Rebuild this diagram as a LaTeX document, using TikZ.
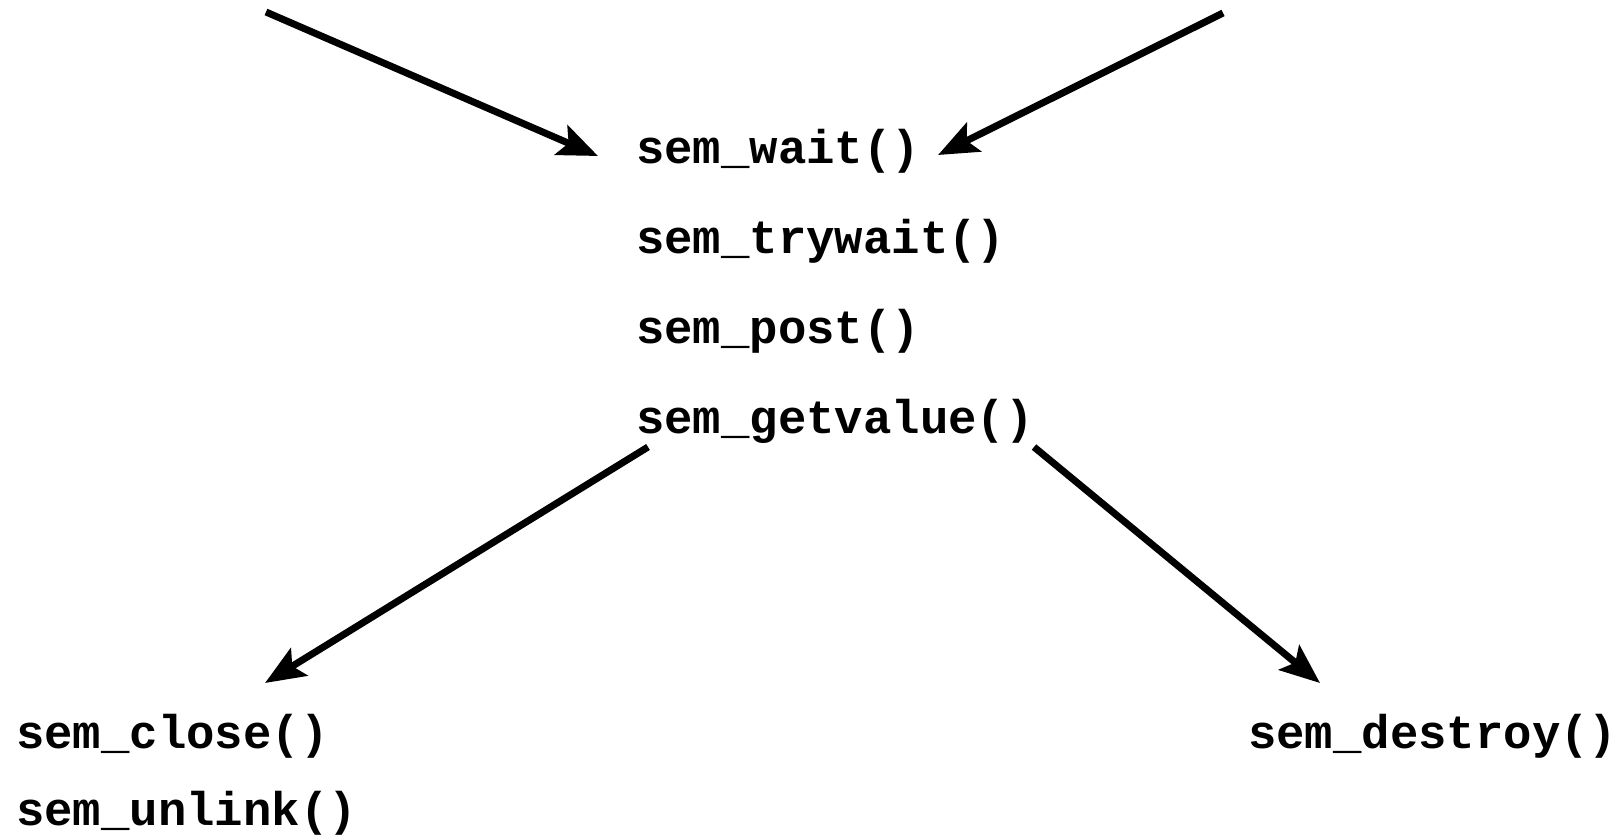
\documentclass[tikz,border=0pt]{standalone}
\usepackage{fontspec}
\setmonofont{Liberation Mono}
\usetikzlibrary{arrows.meta}
\tikzset{
  fn/.style={anchor=base west, inner sep=0pt, font=\fontsize{47.3pt}{50pt}\selectfont\ttfamily\bfseries},
  arr/.style={line width=7pt, -{Stealth[length=40pt,width=32pt,inset=8pt]}}
}
\begin{document}
\begin{tikzpicture}[x=1pt,y=-1pt]
\useasboundingbox (0,0) rectangle (1621,839);
\node[fn] (wait) at (636,163) {sem\_wait()};
\node[fn] (trywait) at (636,253) {sem\_trywait()};
\node[fn] (post) at (636,343) {sem\_post()};
\node[fn] (getvalue) at (636,433) {sem\_getvalue()};
\node[fn] (close) at (16,748) {sem\_close()};
\node[fn] (unlink) at (16,825) {sem\_unlink()};
\node[fn] (destroy) at (1248,748) {sem\_destroy()};
\coordinate (a1) at (266,12);
\coordinate (a2) at (1223,13);
\coordinate (e1) at (598,156);
\coordinate (e2) at (938,155);
\coordinate (s3) at (648,447);
\coordinate (s4) at (1034,447);
\coordinate (e3) at (265,683);
\coordinate (e4) at (1320,683);
\draw[arr] (a1) -- (e1);
\draw[arr] (a2) -- (e2);
\draw[arr] (s3) -- (e3);
\draw[arr] (s4) -- (e4);
\end{tikzpicture}
\end{document}
